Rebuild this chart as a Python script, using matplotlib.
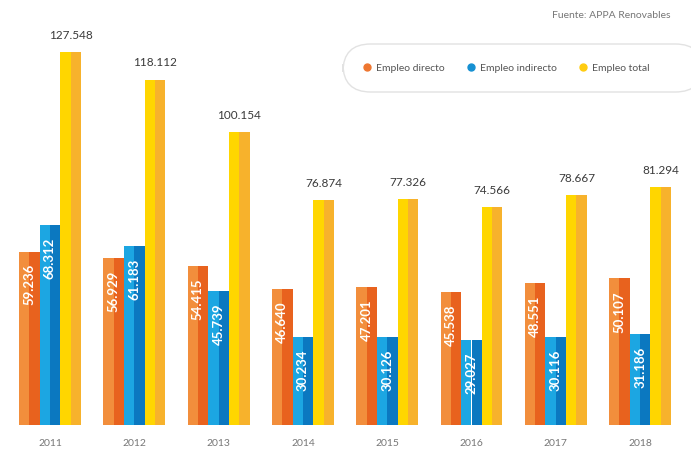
import numpy as np
import matplotlib.pyplot as plt
from matplotlib.patches import FancyBboxPatch
from matplotlib.lines import Line2D

plt.rcParams['font.family'] = ['Lato', 'DejaVu Sans']

years = ['2011', '2012', '2013', '2014', '2015', '2016', '2017', '2018']
directo = [59236, 56929, 54415, 46640, 47201, 45538, 48551, 50107]
indirecto = [68312, 61183, 45739, 30234, 30126, 29027, 30116, 31186]
total = [127548, 118112, 100154, 76874, 77326, 74566, 78667, 81294]

series = [
    ('Empleo directo', directo, '#F28E3C', '#E8621E', '#EE7630'),
    ('Empleo indirecto', indirecto, '#1CA6E2', '#0B78C0', '#1590D2'),
    ('Empleo total', total, '#FFD600', '#F7B22C', '#FFCC10'),
]

fig = plt.figure(figsize=(6.91, 4.53), dpi=100)
ax = fig.add_axes([0, 28 / 453, 1, 1 - 28 / 453])

x = np.arange(len(years))
w = 0.245
for k, (name, vals, light, dark, dot) in enumerate(series):
    pos = x + (k - 1) * w
    # two-tone bars: lighter left half, darker right half
    ax.bar(pos - w / 4, vals, width=w / 2, color=light, linewidth=0)
    ax.bar(pos + w / 4, vals, width=w / 2, color=dark, linewidth=0)
    for p, v in zip(pos, vals):
        txt = f'{v / 1000:.3f}'
        if name == 'Empleo total':
            ax.annotate(txt, (p, v), xytext=(0, 8), textcoords='offset points',
                        ha='center', va='bottom', fontsize=8.5, color='#3a3a3a')
        else:
            ax.annotate(txt, (p, v), xytext=(0, -9), textcoords='offset points',
                        ha='center', va='top', rotation=90, fontsize=9.5,
                        color='white', fontweight='bold')

ax.set_xlim(-50 / 84.3, (691 - 50) / 84.3)
ax.set_ylim(0, 145300)
ax.axis('off')

for xi, yr in zip(x, years):
    ax.annotate(yr, (xi, 0), xytext=(0, -13), textcoords='offset points',
                ha='center', va='center', fontsize=7.5, color='#777777')

fig.text(670 / 691, 1 - 15 / 453, 'Fuente: APPA Renovables', ha='right',
         va='center', fontsize=7.5, color='#777777')

box = FancyBboxPatch((343 / 691, 1 - 92 / 453), 360 / 691, 48 / 453,
                     boxstyle='round,pad=0,rounding_size=0.04',
                     transform=fig.transFigure, facecolor='white',
                     edgecolor='#E2E2E2', linewidth=1.0, mutation_aspect=691 / 453)
fig.add_artist(box)
handles = [Line2D([], [], marker='o', linestyle='', markersize=5,
                  markerfacecolor=s[4], markeredgecolor=s[4]) for s in series]
fig.legend(handles, [s[0] for s in series], loc='center left',
           bbox_to_anchor=(352 / 691, 1 - 68 / 453), ncol=3, frameon=False,
           fontsize=7.5, labelcolor='#555555', handletextpad=0.4,
           columnspacing=2.0, handlelength=1.0)

fig.savefig('out.png', dpi=100, facecolor='white')
